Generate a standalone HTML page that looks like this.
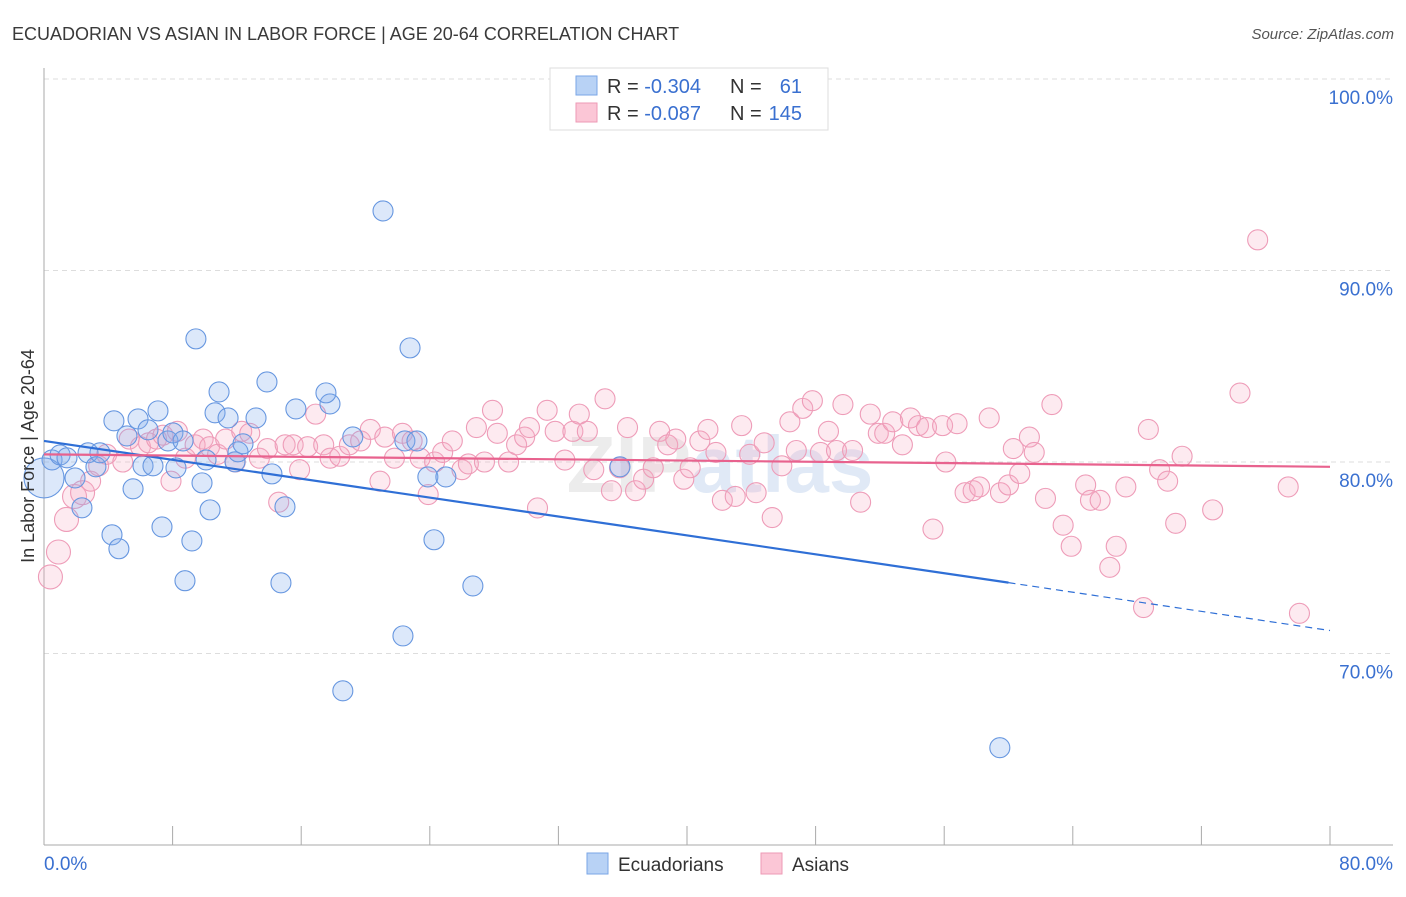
<!DOCTYPE html>
<html><head><meta charset="utf-8"><style>
body{margin:0;background:#fff;font-family:"Liberation Sans",sans-serif}
svg text{font-family:"Liberation Sans",sans-serif}
</style></head><body>
<svg id="chart" width="1406" height="892" xmlns="http://www.w3.org/2000/svg">
<text x="12" y="40" font-size="18" fill="#3a3a3a">ECUADORIAN VS ASIAN IN LABOR FORCE | AGE 20-64 CORRELATION CHART</text>
<text x="1394" y="39" font-size="15" fill="#555" font-style="italic" text-anchor="end">Source: ZipAtlas.com</text>
<text x="720" y="492" font-size="80" fill="#ececec" text-anchor="middle" font-weight="bold">ZIP<tspan fill="#e0e9f6">atlas</tspan></text>
<g id="grid"></g>
<g id="axes"></g>
<g id="pts"></g>
<g id="trend"></g>
<text transform="translate(34,456) rotate(-90)" font-size="18" fill="#333" text-anchor="middle">In Labor Force | Age 20-64</text>
<g>
<rect x="550" y="68" width="278" height="62" fill="#fff" stroke="#ddd"/>
<rect x="576" y="76" width="21" height="19" fill="#b8d2f5" stroke="#7aa6e6"/>
<rect x="576" y="103" width="21" height="19" fill="#fbc6d6" stroke="#ee9ab5"/>
<text x="607" y="93" font-size="20" fill="#333">R = <tspan fill="#3a70d0">-0.304</tspan></text>
<text x="730" y="93" font-size="20" fill="#333">N = </text><text x="802" y="93" font-size="20" fill="#3a70d0" text-anchor="end">61</text>
<text x="607" y="120" font-size="20" fill="#333">R = <tspan fill="#3a70d0">-0.087</tspan></text>
<text x="730" y="120" font-size="20" fill="#333">N = </text><text x="802" y="120" font-size="20" fill="#3a70d0" text-anchor="end">145</text>
</g>
<g>
<rect x="587" y="853" width="21" height="21" fill="#b8d2f5" stroke="#7aa6e6"/>
<text x="618" y="871" font-size="19" fill="#333">Ecuadorians</text></g>
<g>
<rect x="761" y="853" width="21" height="21" fill="#fbc6d6" stroke="#ee9ab5"/>
<text x="792" y="871" font-size="19" fill="#333">Asians</text></g>
</svg>
<script>
const yTicks=[100,90,80,70];
const yTickLabels=["100.0%","90.0%","80.0%","70.0%"];
const xTickLabels=["0.0%","80.0%"];
const blueX=[0,0.5,1.0,1.43,1.93,2.36,2.74,3.23,3.48,4.23,4.35,4.66,5.16,5.54,5.85,6.16,6.47,6.78,7.09,7.34,7.71,8.02,8.21,8.65,8.77,9.20,9.45,9.83,10.08,10.33,10.64,10.89,11.45,11.88,12.07,12.38,13.19,13.87,14.18,14.74,14.99,15.67,17.79,17.54,18.59,19.21,21.09,22.33,22.45,22.77,23.20,23.88,24.26,25.00,26.68,35.83,59.46];
const blueY=[79.17,80.11,80.37,80.22,79.17,77.61,80.48,79.75,80.48,76.20,82.15,75.47,81.36,78.60,82.25,79.80,81.68,79.80,82.67,76.61,81.10,81.52,79.69,81.10,73.80,75.88,86.43,78.91,80.11,77.50,82.57,83.66,82.30,80.01,80.53,80.95,82.30,84.18,79.38,73.69,77.66,82.77,83.03,83.61,68.05,81.31,93.11,70.92,81.10,85.96,81.10,79.22,75.94,79.22,73.53,79.75,65.08];
const pinkX=[0.4,0.9,1.4,1.9,2.4,2.9,3.4,3.9,4.9,5.3,6.0,6.5,7.0,7.4,7.9,8.3,8.8,9.4,9.9,10.3,10.8,11.3,11.9,12.3,12.8,13.4,13.9,14.6,15.0,15.5,15.9,16.4,16.9,17.4,17.8,18.4,19.0,19.7,20.3,20.9,21.2,21.8,22.3,22.9,23.4,23.9,24.3,24.8,25.4,26.0,26.4,26.9,27.4,27.9,28.2,28.9,29.4,29.9,30.2,30.7,31.3,31.8,32.4,32.9,33.3,33.8,34.2,34.9,35.3,35.8,36.3,36.8,37.3,37.9,38.3,38.8,39.3,39.8,40.2,40.8,41.3,41.8,42.2,43.0,43.4,43.9,44.3,44.8,45.3,45.9,46.4,46.8,47.2,47.8,48.3,48.8,49.3,49.7,50.3,50.8,51.4,51.9,52.3,52.8,53.4,53.9,54.4,54.9,55.3,55.9,56.1,56.8,57.3,57.8,58.2,58.8,59.5,60.0,60.3,60.7,61.3,61.6,62.3,62.7,63.4,63.9,64.8,65.1,65.7,66.3,66.7,67.3,68.4,68.7,69.4,69.9,70.4,70.8,72.7,74.4,75.5,77.4,78.1];
const pinkY=[74.0,75.3,77.0,78.2,78.4,79.0,79.8,80.4,80.0,81.2,80.8,81.0,81.2,81.4,79.0,81.6,80.2,80.9,81.2,80.8,80.4,81.2,80.0,81.6,81.5,80.2,80.7,77.9,80.9,80.9,79.6,80.8,82.5,80.9,80.2,80.3,80.9,81.1,81.7,79.0,81.3,80.2,81.5,81.1,80.2,78.3,80.0,80.5,81.1,79.6,79.9,81.8,80.0,82.7,81.5,80.0,80.9,81.3,81.8,77.6,82.7,81.6,80.1,81.6,82.5,81.6,79.6,83.3,78.5,79.7,81.8,78.5,79.1,79.7,81.6,80.9,81.2,79.1,79.7,81.1,81.7,80.5,78.0,78.2,81.9,80.4,78.4,81.0,77.1,79.8,82.1,80.6,82.8,83.2,80.5,81.6,80.6,83.0,80.6,77.9,82.5,81.5,81.5,82.1,80.9,82.3,81.9,81.8,76.5,81.9,80.0,82.0,78.4,78.5,78.7,82.3,78.4,78.8,80.7,79.4,81.3,80.5,78.1,83.0,76.7,75.6,78.8,78.0,78.0,74.5,75.6,78.7,72.4,81.7,79.6,79.0,76.8,80.3,77.5,83.6,91.6,78.7,72.1];
const blueTrend=[81.1,73.7,71.2], blueTrendX=[0,60,80];
const pinkTrend=[80.4,79.75], pinkTrendX=[0,80];
const X=v=>44+v*(1286/80), Y=v=>79+(100-v)*19.15;
const NS="http://www.w3.org/2000/svg";
function mk(p,t,a){const e=document.createElementNS(NS,t);for(const k in a)e.setAttribute(k,a[k]);p.appendChild(e);return e;}
const grid=document.getElementById('grid'),axes=document.getElementById('axes'),pts=document.getElementById('pts'),tr=document.getElementById('trend');
yTicks.forEach((t,i)=>{
 const l=mk(grid,'line',{x1:44,x2:1393,y1:Y(t),y2:Y(t),stroke:'#ddd','stroke-dasharray':'5,4'});
 
 
 const tx=mk(grid,'text',{x:1393,y:Y(t)+25,'font-size':19,fill:'#3a70d0','text-anchor':'end'});tx.textContent=yTickLabels[i];
 
 
});
const ya=mk(axes,'line',{x1:44,x2:44,y1:68,y2:845,stroke:'#aaa'});


const xa=mk(axes,'line',{x1:44,x2:1393,y1:845,y2:845,stroke:'#aaa'});


for(let k=0;k<=10;k++){const t=mk(axes,'line',{x1:X(k*8),x2:X(k*8),y1:826,y2:845,stroke:'#aaa'});
 
 }
[[0,'start',44],[1,'end',1393]].forEach(([i,a,x])=>{const t=mk(axes,'text',{x:x,y:870,'font-size':19,fill:'#3a70d0','text-anchor':a});t.textContent=xTickLabels[i];
 
 });
pinkX.forEach((x,i)=>{const r=x<2.5?12:10;const c=mk(pts,'circle',{cx:X(x),cy:Y(pinkY[i]),r:r,fill:'rgba(246,170,196,0.25)',stroke:'#ee9cb8','stroke-width':1.1});
 
 });
blueX.forEach((x,i)=>{const r=i==0?20:10;const c=mk(pts,'circle',{cx:X(x),cy:Y(blueY[i]),r:r,fill:'rgba(130,172,236,0.28)',stroke:'#6797e0','stroke-width':1.1});
 
 });
const b1=mk(tr,'line',{x1:X(blueTrendX[0]),y1:Y(blueTrend[0]),x2:X(blueTrendX[1]),y2:Y(blueTrend[1]),stroke:'#2f6fd6','stroke-width':2.2});


const b2=mk(tr,'line',{x1:X(blueTrendX[1]),y1:Y(blueTrend[1]),x2:X(blueTrendX[2]),y2:Y(blueTrend[2]),stroke:'#2f6fd6','stroke-width':1.2,'stroke-dasharray':'7,5'});


const p1=mk(tr,'line',{x1:X(pinkTrendX[0]),y1:Y(pinkTrend[0]),x2:X(pinkTrendX[1]),y2:Y(pinkTrend[1]),stroke:'#e8628e','stroke-width':2.2});


</script>
</body></html>
